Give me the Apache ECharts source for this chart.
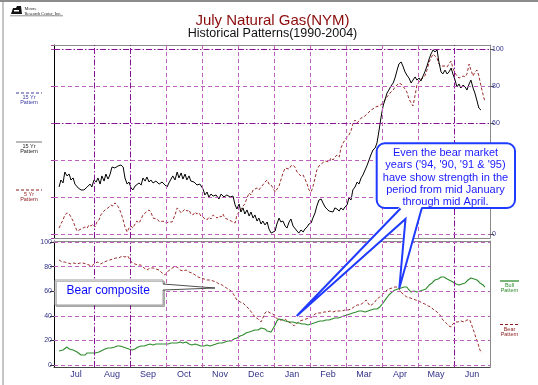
<!DOCTYPE html>
<html><head><meta charset="utf-8">
<script src="https://cdn.jsdelivr.net/npm/echarts@6/dist/echarts.min.js"></script>
<style>html,body{margin:0;padding:0;background:#fff}#c{width:538px;height:385px}</style>
</head><body><div id="c"></div>
<script>
const months = ['Jul','Aug','Sep','Oct','Nov','Dec','Jan','Feb','Mar','Apr','May','Jun'];
const monthBoundaries = [1,2,3,4,5,6,7,8,9,10,11];
const darkMonthLines = [1,2,11];
const topGridValues = [0,20,40,60,80,100];
const darkTopGridValues = [60,100];
const bottomGridValues = [0,20,40,60,80,100];

const pattern15Yr = [[0.03,25.4],[0.08,29.2],[0.14,27.6],[0.19,33.5],[0.25,31.4],[0.31,32.4],[0.36,29.2],[0.42,30.3],[0.47,27.0],[0.56,24.9],[0.64,23.8],[0.72,23.8],[0.81,25.4],[0.89,27.0],[0.94,25.4],[1.0,29.2],[1.06,28.1],[1.11,30.3],[1.17,27.0],[1.22,31.4],[1.28,28.6],[1.33,32.4],[1.39,29.7],[1.44,31.9],[1.5,36.2],[1.58,35.7],[1.67,36.8],[1.75,37.3],[1.81,36.2],[1.86,30.3],[1.92,27.0],[1.97,28.1],[2.03,24.9],[2.08,23.8],[2.14,25.9],[2.19,24.9],[2.25,27.6],[2.31,26.5],[2.36,30.3],[2.42,28.6],[2.47,30.8],[2.53,28.1],[2.58,29.2],[2.64,27.6],[2.72,28.6],[2.81,27.0],[2.89,28.1],[2.97,26.5],[3.03,25.4],[3.08,27.6],[3.14,29.7],[3.19,31.4],[3.25,29.2],[3.31,33.5],[3.36,30.3],[3.42,33.0],[3.47,29.7],[3.53,32.4],[3.58,29.2],[3.64,31.4],[3.69,28.6],[3.78,28.1],[3.86,26.5],[3.94,27.0],[4.03,24.3],[4.08,21.1],[4.14,22.7],[4.19,20.0],[4.25,21.6],[4.31,20.5],[4.39,21.1],[4.47,18.9],[4.53,21.6],[4.61,20.0],[4.69,21.1],[4.78,20.0],[4.86,20.5],[4.92,15.7],[4.97,13.5],[5.03,16.2],[5.08,11.9],[5.14,14.1],[5.19,10.8],[5.25,13.0],[5.31,9.7],[5.36,11.9],[5.42,8.6],[5.47,10.3],[5.53,7.0],[5.58,8.6],[5.64,5.4],[5.69,7.0],[5.75,4.9],[5.81,6.5],[5.86,2.7],[5.92,0.5],[5.97,0.5],[6.03,1.6],[6.08,5.4],[6.14,8.6],[6.19,6.5],[6.25,7.0],[6.31,4.3],[6.36,3.2],[6.42,6.5],[6.47,8.1],[6.53,4.3],[6.58,3.8],[6.64,1.6],[6.69,0.5],[6.75,2.2],[6.81,1.1],[6.86,2.7],[6.92,3.8],[6.97,5.4],[7.03,5.9],[7.08,8.6],[7.14,11.4],[7.19,15.1],[7.25,18.4],[7.31,18.9],[7.36,16.8],[7.42,14.6],[7.47,13.5],[7.53,12.4],[7.58,13.0],[7.64,11.9],[7.69,14.1],[7.75,13.5],[7.81,12.4],[7.86,14.1],[7.92,13.0],[7.97,14.6],[8.03,15.7],[8.08,19.5],[8.14,18.4],[8.19,23.8],[8.25,25.4],[8.31,28.1],[8.36,27.0],[8.42,30.3],[8.47,31.9],[8.53,34.6],[8.58,36.8],[8.64,40.0],[8.69,42.7],[8.75,45.4],[8.81,46.5],[8.86,49.2],[8.92,56.2],[8.97,62.7],[9.03,69.2],[9.08,72.4],[9.14,76.2],[9.19,77.8],[9.25,80.0],[9.31,81.6],[9.36,84.3],[9.42,88.6],[9.47,91.9],[9.53,93.0],[9.58,90.8],[9.64,87.6],[9.69,85.9],[9.75,84.3],[9.81,81.6],[9.86,83.2],[9.92,84.9],[9.97,83.2],[10.03,84.3],[10.08,82.7],[10.14,85.4],[10.19,87.6],[10.25,90.8],[10.31,94.6],[10.36,97.3],[10.42,99.5],[10.47,98.4],[10.53,99.5],[10.58,93.0],[10.64,87.6],[10.69,86.5],[10.75,88.6],[10.81,86.5],[10.86,87.6],[10.92,89.7],[10.97,86.5],[11.03,83.2],[11.08,79.5],[11.14,81.1],[11.19,78.9],[11.25,80.5],[11.31,79.5],[11.36,77.8],[11.42,81.1],[11.47,83.2],[11.53,78.9],[11.58,76.2],[11.64,71.9],[11.69,68.1],[11.75,67.0]];

const pattern5Yr = [[0.03,3.2],[0.08,5.4],[0.14,7.6],[0.19,10.3],[0.25,11.4],[0.31,10.8],[0.36,9.2],[0.42,7.0],[0.47,4.3],[0.53,1.6],[0.58,1.1],[0.64,2.7],[0.69,2.2],[0.75,3.8],[0.81,3.2],[0.86,4.9],[0.92,4.3],[0.97,5.4],[1.03,3.8],[1.08,6.5],[1.14,7.6],[1.19,10.3],[1.25,11.9],[1.31,13.0],[1.36,12.4],[1.42,14.6],[1.47,15.7],[1.53,15.1],[1.58,16.8],[1.64,15.7],[1.69,14.1],[1.75,11.4],[1.81,7.6],[1.86,3.8],[1.92,1.1],[1.97,3.2],[2.03,4.3],[2.08,3.2],[2.14,5.4],[2.19,7.0],[2.25,5.9],[2.31,8.1],[2.36,10.3],[2.42,11.4],[2.47,12.4],[2.53,13.0],[2.58,11.9],[2.64,8.6],[2.69,7.6],[2.75,8.1],[2.83,6.5],[2.92,7.0],[3.0,5.9],[3.08,6.5],[3.17,6.5],[3.25,10.3],[3.31,14.1],[3.36,13.0],[3.42,11.4],[3.47,11.9],[3.53,13.5],[3.58,12.4],[3.64,13.0],[3.69,10.8],[3.75,10.3],[3.81,11.9],[3.86,10.8],[3.92,11.4],[3.97,9.7],[4.03,9.2],[4.08,8.1],[4.14,7.6],[4.19,9.2],[4.25,8.1],[4.31,10.3],[4.36,10.3],[4.42,8.6],[4.47,9.7],[4.53,9.2],[4.58,10.8],[4.64,8.6],[4.69,8.1],[4.75,7.6],[4.81,7.0],[4.86,6.5],[4.92,5.9],[4.97,10.3],[5.03,11.9],[5.08,12.4],[5.14,15.1],[5.19,16.2],[5.25,19.5],[5.31,22.2],[5.36,21.1],[5.42,23.8],[5.47,24.3],[5.53,24.9],[5.58,23.8],[5.64,25.4],[5.69,26.5],[5.75,28.1],[5.81,29.2],[5.86,27.0],[5.92,26.5],[5.97,24.9],[6.03,22.7],[6.08,22.2],[6.14,25.9],[6.19,29.2],[6.25,33.0],[6.31,35.7],[6.36,36.2],[6.42,35.1],[6.47,36.8],[6.53,37.3],[6.58,36.2],[6.64,33.5],[6.69,32.4],[6.75,31.4],[6.81,31.9],[6.86,29.7],[6.92,27.0],[6.97,23.8],[7.03,22.7],[7.08,25.4],[7.14,30.3],[7.19,34.6],[7.25,36.8],[7.31,37.8],[7.36,38.4],[7.42,39.5],[7.47,40.0],[7.53,38.9],[7.58,41.1],[7.64,40.0],[7.69,41.6],[7.75,42.7],[7.81,41.6],[7.86,46.5],[7.92,49.2],[7.97,50.8],[8.03,52.4],[8.08,53.5],[8.14,55.7],[8.19,59.5],[8.25,61.6],[8.31,60.0],[8.36,61.1],[8.42,62.7],[8.47,63.2],[8.53,63.8],[8.58,64.9],[8.64,65.9],[8.69,67.0],[8.75,67.6],[8.81,68.6],[8.86,69.2],[8.92,69.2],[8.97,69.7],[9.03,70.8],[9.08,72.4],[9.14,74.1],[9.19,75.1],[9.25,76.8],[9.31,77.8],[9.36,79.5],[9.42,80.5],[9.47,81.6],[9.53,81.1],[9.58,80.5],[9.64,78.4],[9.69,76.8],[9.75,73.0],[9.81,70.8],[9.86,69.2],[9.92,75.1],[9.97,80.5],[10.03,82.2],[10.08,83.8],[10.14,84.3],[10.19,85.4],[10.25,88.6],[10.31,93.0],[10.36,95.1],[10.42,97.3],[10.47,97.8],[10.53,95.1],[10.58,91.9],[10.64,90.8],[10.69,90.3],[10.75,90.8],[10.81,90.3],[10.86,91.9],[10.92,93.5],[10.97,89.7],[11.03,87.0],[11.08,85.4],[11.14,84.3],[11.19,84.9],[11.25,85.4],[11.31,84.9],[11.36,86.5],[11.42,91.9],[11.47,88.6],[11.53,85.4],[11.58,87.6],[11.64,88.6],[11.69,85.4],[11.75,80.0],[11.81,75.1],[11.86,71.4]];

const bullPattern = [[0.03,11.4],[0.08,11.4],[0.14,12.2],[0.19,13.0],[0.25,14.6],[0.31,13.0],[0.36,11.4],[0.42,12.2],[0.47,11.4],[0.53,10.6],[0.58,9.8],[0.64,8.1],[0.69,8.9],[0.75,8.1],[0.81,9.8],[0.86,8.9],[0.92,9.8],[0.97,10.6],[1.03,9.8],[1.08,11.4],[1.14,10.6],[1.19,12.2],[1.25,12.2],[1.31,13.0],[1.39,13.8],[1.47,13.8],[1.58,14.6],[1.64,15.4],[1.72,15.4],[1.81,14.6],[1.89,13.8],[1.97,13.0],[2.06,12.2],[2.14,13.0],[2.22,14.6],[2.31,15.4],[2.39,15.4],[2.47,16.3],[2.56,17.1],[2.64,16.3],[2.72,17.1],[2.81,17.1],[2.89,17.1],[2.97,17.1],[3.06,17.1],[3.14,17.9],[3.22,17.9],[3.31,17.9],[3.39,18.7],[3.47,17.9],[3.56,18.7],[3.64,17.1],[3.72,16.3],[3.81,17.1],[3.89,16.3],[3.97,15.4],[4.06,15.4],[4.14,16.3],[4.22,15.4],[4.31,16.3],[4.39,17.1],[4.47,17.9],[4.56,17.9],[4.64,18.7],[4.72,19.5],[4.81,19.5],[4.89,21.1],[4.97,22.0],[5.06,23.6],[5.14,24.4],[5.22,26.0],[5.31,26.8],[5.39,27.6],[5.47,28.5],[5.56,28.5],[5.64,30.1],[5.69,30.9],[5.75,29.3],[5.81,27.6],[5.86,26.0],[5.92,26.8],[5.97,27.6],[6.03,32.5],[6.08,35.8],[6.14,37.4],[6.19,37.4],[6.25,36.6],[6.31,35.8],[6.36,35.8],[6.44,35.0],[6.53,35.0],[6.61,34.1],[6.69,34.1],[6.78,33.3],[6.86,33.3],[6.94,32.5],[7.03,33.3],[7.11,34.1],[7.19,35.0],[7.28,35.8],[7.36,35.8],[7.44,36.6],[7.53,36.6],[7.61,37.4],[7.69,38.2],[7.78,38.2],[7.86,39.0],[7.94,39.8],[8.03,40.7],[8.11,41.5],[8.19,42.3],[8.28,43.1],[8.36,43.9],[8.44,43.9],[8.53,43.1],[8.61,43.9],[8.69,44.7],[8.78,45.5],[8.86,45.5],[8.94,47.2],[9.03,50.4],[9.11,53.7],[9.19,56.9],[9.28,59.3],[9.36,61.0],[9.44,61.8],[9.53,62.6],[9.61,63.4],[9.69,63.4],[9.75,61.0],[9.81,59.3],[9.89,60.2],[9.97,59.3],[10.06,60.2],[10.14,61.0],[10.22,61.8],[10.31,65.0],[10.39,66.7],[10.47,69.1],[10.56,69.9],[10.64,71.5],[10.72,71.5],[10.81,69.9],[10.86,71.5],[10.92,68.3],[10.97,66.7],[11.06,65.9],[11.14,65.0],[11.22,65.9],[11.31,66.7],[11.39,69.1],[11.47,70.7],[11.56,69.9],[11.64,69.1],[11.72,66.7],[11.81,65.0],[11.86,63.4]];

const bearPattern = [[0.03,85.4],[0.11,83.7],[0.19,83.7],[0.28,82.9],[0.36,82.1],[0.44,82.9],[0.53,82.1],[0.61,82.9],[0.69,82.9],[0.78,82.1],[0.86,81.3],[0.94,80.5],[1.03,82.9],[1.11,83.7],[1.19,82.1],[1.28,83.7],[1.36,84.6],[1.44,85.4],[1.53,86.2],[1.61,87.0],[1.69,87.0],[1.78,88.6],[1.86,87.8],[1.94,88.6],[2.0,85.4],[2.06,82.9],[2.14,82.1],[2.22,81.3],[2.31,81.3],[2.39,78.9],[2.47,77.2],[2.56,78.9],[2.64,78.9],[2.72,78.0],[2.81,77.2],[2.89,74.8],[2.97,73.2],[3.06,76.4],[3.14,78.0],[3.22,79.7],[3.31,79.7],[3.39,77.2],[3.47,76.4],[3.56,77.2],[3.64,75.6],[3.72,74.8],[3.81,73.2],[3.89,71.5],[3.97,70.7],[4.06,69.9],[4.14,69.1],[4.22,69.1],[4.31,68.3],[4.39,67.5],[4.47,65.9],[4.56,65.0],[4.64,63.4],[4.72,61.8],[4.81,60.2],[4.89,56.9],[4.97,52.8],[5.06,51.2],[5.14,50.4],[5.22,48.0],[5.31,45.5],[5.39,42.3],[5.47,39.0],[5.56,37.4],[5.64,35.0],[5.69,38.2],[5.75,42.3],[5.81,43.9],[5.89,42.3],[5.97,41.5],[6.06,38.2],[6.14,36.6],[6.22,36.6],[6.31,37.4],[6.39,35.0],[6.47,34.1],[6.56,31.7],[6.64,34.1],[6.72,35.8],[6.81,36.6],[6.89,37.4],[6.97,38.2],[7.06,39.0],[7.14,41.5],[7.22,42.3],[7.31,42.3],[7.39,43.1],[7.47,43.1],[7.56,43.9],[7.64,43.1],[7.72,43.9],[7.81,43.9],[7.89,43.9],[7.97,44.7],[8.06,44.7],[8.14,45.5],[8.22,47.2],[8.31,48.8],[8.39,48.8],[8.47,50.4],[8.56,52.8],[8.61,50.4],[8.67,48.0],[8.72,48.0],[8.78,50.4],[8.86,53.7],[8.94,55.3],[9.03,57.7],[9.11,60.2],[9.19,61.8],[9.28,62.6],[9.36,63.4],[9.44,63.4],[9.53,59.3],[9.61,56.9],[9.69,55.3],[9.78,54.5],[9.86,53.7],[9.94,52.8],[10.03,52.0],[10.11,50.4],[10.19,49.6],[10.28,48.0],[10.36,47.2],[10.44,44.7],[10.53,43.1],[10.61,40.7],[10.69,36.6],[10.78,34.1],[10.86,31.7],[10.92,30.9],[10.97,33.3],[11.03,35.0],[11.11,35.0],[11.19,35.8],[11.28,35.0],[11.36,36.6],[11.44,36.6],[11.5,31.7],[11.56,26.8],[11.61,22.0],[11.67,17.1],[11.72,12.2],[11.78,9.8]];

const FONT = "'Liberation Sans', Arial, sans-serif";
const NAVY = '#33338a';
const DARK = '#8a109a';
const LIGHT = '#c060c0';
const RED = '#9b2d2d';
const GREEN = '#2e8b2e';
const darkStyle = {color: DARK, width: 1, type: [6,2,1.5,2]};
const lightStyle = {color: LIGHT, width: 1, type: [4,3]};

function vLines() {
  return monthBoundaries.map(m => ({xAxis: m, lineStyle: darkMonthLines.includes(m) ? darkStyle : lightStyle}));
}
function hLines(vals, darks) {
  return vals.map(v => ({yAxis: v, lineStyle: darks.includes(v) ? darkStyle : lightStyle}));
}
const twenty = v => (Math.abs(v % 20) < 1e-6 ? String(v) : '');

const chart = echarts.init(document.getElementById('c'), null, {renderer: 'canvas'});
const XMIN = -0.111, XMAX = 12;
const valX = (grid, pos, color) => ({
  type: 'value', gridIndex: grid, position: pos, min: XMIN, max: XMAX,
  axisLine: {show: true, onZero: false, lineStyle: {color: color, width: 1}},
  axisTick: {show: false}, axisLabel: {show: false}, splitLine: {show: false}
});

chart.setOption({
  animation: false,
  grid: [
    {left: 54, right: 48, top: 45, height: 193},
    {left: 54, right: 48, top: 241, height: 126},
    {left: 58, right: 48, top: 241, height: 126}
  ],
  xAxis: [
    valX(0, 'bottom', '#8a8a8a'),
    valX(0, 'top', '#8a8a8a'),
    valX(1, 'bottom', '#444'),
    valX(1, 'top', '#8a8a8a'),
    {type: 'category', gridIndex: 2, data: months, position: 'bottom',
     axisLine: {show: false}, axisTick: {show: false}, splitLine: {show: false},
     axisLabel: {color: NAVY, fontSize: 9, fontFamily: FONT, margin: 3, interval: 0}}
  ],
  yAxis: [
    {type: 'value', gridIndex: 0, position: 'left', min: -2.16, max: 102.16,
     axisLine: {show: true, onZero: false, lineStyle: {color: '#000', width: 1}},
     axisTick: {show: true, length: 3, lineStyle: {color: '#a040a0'}},
     axisLabel: {show: false}, splitLine: {show: false}},
    {type: 'value', gridIndex: 0, position: 'right', min: -2.16, max: 102.16,
     axisLine: {show: true, onZero: false, lineStyle: {color: '#8a8a8a', width: 1}},
     axisTick: {show: true, length: 4, lineStyle: {color: '#555'}},
     axisLabel: {show: true, color: NAVY, fontSize: 7, fontFamily: FONT, margin: 2,
                 showMinLabel: false, showMaxLabel: false, formatter: twenty},
     splitLine: {show: false}},
    {type: 'value', gridIndex: 1, position: 'left', min: -1.63, max: 100.8,
     axisLine: {show: true, onZero: false, lineStyle: {color: '#000', width: 1}},
     axisTick: {show: true, length: 4, lineStyle: {color: '#333'}},
     axisLabel: {show: true, color: NAVY, fontSize: 7, fontFamily: FONT, margin: 2,
                 showMinLabel: false, showMaxLabel: false, formatter: twenty},
     splitLine: {show: false}},
    {type: 'value', gridIndex: 1, position: 'right', min: -1.63, max: 100.8,
     axisLine: {show: true, onZero: false, lineStyle: {color: '#8a8a8a', width: 1}},
     axisTick: {show: false}, axisLabel: {show: false}, splitLine: {show: false}},
    {type: 'value', gridIndex: 2, show: false}
  ],
  series: [
    {type: 'line', xAxisIndex: 0, yAxisIndex: 0, data: [], z: 1, silent: true,
     markLine: {silent: true, symbol: ['none','none'], label: {show: false}, animation: false,
       data: vLines().concat(hLines(topGridValues, darkTopGridValues))}},
    {type: 'line', xAxisIndex: 2, yAxisIndex: 2, data: [], z: 1, silent: true,
     markLine: {silent: true, symbol: ['none','none'], label: {show: false}, animation: false,
       data: vLines().concat(hLines(bottomGridValues, []))}},
    {name: '5 Yr Pattern', type: 'line', xAxisIndex: 0, yAxisIndex: 0, data: pattern5Yr,
     showSymbol: false, z: 3, lineStyle: {color: RED, width: 1, type: [3,2]}},
    {name: '15 Yr Pattern', type: 'line', xAxisIndex: 0, yAxisIndex: 0, data: pattern15Yr,
     showSymbol: false, z: 4, lineStyle: {color: '#000', width: 1}},
    {name: 'Bear Pattern', type: 'line', xAxisIndex: 2, yAxisIndex: 2, data: bearPattern,
     showSymbol: false, z: 3, lineStyle: {color: RED, width: 1, type: [3,2]}},
    {name: 'Bull Pattern', type: 'line', xAxisIndex: 2, yAxisIndex: 2, data: bullPattern,
     showSymbol: false, z: 4, lineStyle: {color: GREEN, width: 1.1}}
  ],
  graphic: [
    {type: 'rect', z: 100, shape: {x: 0, y: 0, width: 538, height: 2}, style: {fill: '#8c8c8c'}},
    {type: 'rect', z: 100, shape: {x: 2.5, y: 0, width: 1, height: 385}, style: {fill: '#8c8c8c'}},
    {type: 'polygon', z: 100, shape: {points: [[11,14],[13,8],[16,8],[17,6],[21,6],[22,14]]}, style: {fill: '#111'}},
    {type: 'rect', z: 101, shape: {x: 14, y: 10, width: 5, height: 1.5}, style: {fill: '#fff'}},
    {type: 'line', z: 100, shape: {x1: 10, y1: 15.8, x2: 63, y2: 15.8}, style: {stroke: '#444', lineWidth: 0.6}},
    {type: 'text', z: 100, x: 24.5, y: 9, style: {text: 'Moore', font: "4.5px 'Liberation Serif', serif", fill: '#222', verticalAlign: 'middle'}},
    {type: 'text', z: 100, x: 24.5, y: 13.5, style: {text: 'Research Center, Inc.', font: "4.3px 'Liberation Serif', serif", fill: '#222', verticalAlign: 'middle'}},
    {type: 'text', z: 100, x: 272.5, y: 20.5, style: {text: 'July Natural Gas(NYM)', font: "15px " + FONT, fill: '#8b0a0a', align: 'center', verticalAlign: 'middle'}},
    {type: 'text', z: 100, x: 272.5, y: 33.5, style: {text: 'Historical Patterns(1990-2004)', font: "12.5px " + FONT, fill: '#111', align: 'center', verticalAlign: 'middle'}},
    {type: 'line', z: 100, shape: {x1: 16, y1: 93, x2: 42, y2: 93}, style: {stroke: '#3a3aa0', lineWidth: 1, lineDash: [3,2]}},
    {type: 'text', z: 100, x: 29, y: 97.5, style: {text: '15 Yr', font: "5.5px " + FONT, fill: '#3a3aa0', align: 'center', verticalAlign: 'middle'}},
    {type: 'text', z: 100, x: 29, y: 102.8, style: {text: 'Pattern', font: "5.5px " + FONT, fill: '#3a3aa0', align: 'center', verticalAlign: 'middle'}},
    {type: 'line', z: 100, shape: {x1: 16, y1: 142, x2: 42, y2: 142}, style: {stroke: '#777', lineWidth: 1}},
    {type: 'text', z: 100, x: 29, y: 146.5, style: {text: '15 Yr', font: "5.5px " + FONT, fill: '#222', align: 'center', verticalAlign: 'middle'}},
    {type: 'text', z: 100, x: 29, y: 151.5, style: {text: 'Pattern', font: "5.5px " + FONT, fill: '#222', align: 'center', verticalAlign: 'middle'}},
    {type: 'line', z: 100, shape: {x1: 16, y1: 190, x2: 42, y2: 190}, style: {stroke: '#8b1a1a', lineWidth: 1, lineDash: [3,2]}},
    {type: 'text', z: 100, x: 29, y: 194.5, style: {text: '5 Yr', font: "5.5px " + FONT, fill: '#8b1a1a', align: 'center', verticalAlign: 'middle'}},
    {type: 'text', z: 100, x: 29, y: 199.5, style: {text: 'Pattern', font: "5.5px " + FONT, fill: '#8b1a1a', align: 'center', verticalAlign: 'middle'}},
    {type: 'line', z: 100, shape: {x1: 500, y1: 281, x2: 519, y2: 281}, style: {stroke: GREEN, lineWidth: 1.3}},
    {type: 'text', z: 100, x: 509.5, y: 285.5, style: {text: 'Bull', font: "5.5px " + FONT, fill: GREEN, align: 'center', verticalAlign: 'middle'}},
    {type: 'text', z: 100, x: 509.5, y: 290.5, style: {text: 'Pattern', font: "5.5px " + FONT, fill: GREEN, align: 'center', verticalAlign: 'middle'}},
    {type: 'line', z: 100, shape: {x1: 500, y1: 324.5, x2: 519, y2: 324.5}, style: {stroke: '#8b1a1a', lineWidth: 1, lineDash: [3,2]}},
    {type: 'text', z: 100, x: 509.5, y: 329, style: {text: 'Bear', font: "5.5px " + FONT, fill: '#8b1a1a', align: 'center', verticalAlign: 'middle'}},
    {type: 'text', z: 100, x: 509.5, y: 334.3, style: {text: 'Pattern', font: "5.5px " + FONT, fill: '#8b1a1a', align: 'center', verticalAlign: 'middle'}},
    {type: 'rect', z: 100, shape: {x: 55, y: 280, width: 108, height: 25}, style: {fill: '#fff', stroke: '#9a9a9a', lineWidth: 1, shadowColor: 'rgba(0,0,0,0.25)', shadowOffsetX: 1.5, shadowOffsetY: 1.5}},
    {type: 'polygon', z: 101, shape: {points: [[162,284],[215,288],[162,290]]}, style: {fill: '#fff'}},
    {type: 'polyline', z: 102, shape: {points: [[163,284],[215,288],[163,290]]}, style: {stroke: '#222', lineWidth: 0.8, fill: null}},
    {type: 'text', z: 103, x: 66.5, y: 291, style: {text: 'Bear composite', font: "12px " + FONT, fill: '#0a0aff', verticalAlign: 'middle'}},
    {type: 'rect', z: 100, shape: {x: 376.7, y: 143.3, width: 138.3, height: 64.7, r: 8}, style: {fill: '#fff', stroke: '#1f3bff', lineWidth: 2}},
    {type: 'polygon', z: 101, shape: {points: [[421.7,206],[399.3,288.3],[405.5,219],[296.7,316],[400.5,206]]}, style: {fill: '#fff'}},
    {type: 'polyline', z: 102, shape: {points: [[421.7,208.5],[399.3,288.3],[405.5,219],[296.7,316],[400.5,208.5]]}, style: {stroke: '#1f3bff', lineWidth: 2, fill: null, lineJoin: 'miter'}},
    {type: 'text', z: 103, x: 445.5, y: 177.5, style: {text: "Even the bear market\nyears ('94, '90, '91 & '95)\nhave show strength in the\nperiod from mid January\nthrough mid April.", font: "11px " + FONT, fill: '#1a1aff', align: 'center', verticalAlign: 'middle', lineHeight: 12.1}}
  ]
});
</script>
</body></html>
